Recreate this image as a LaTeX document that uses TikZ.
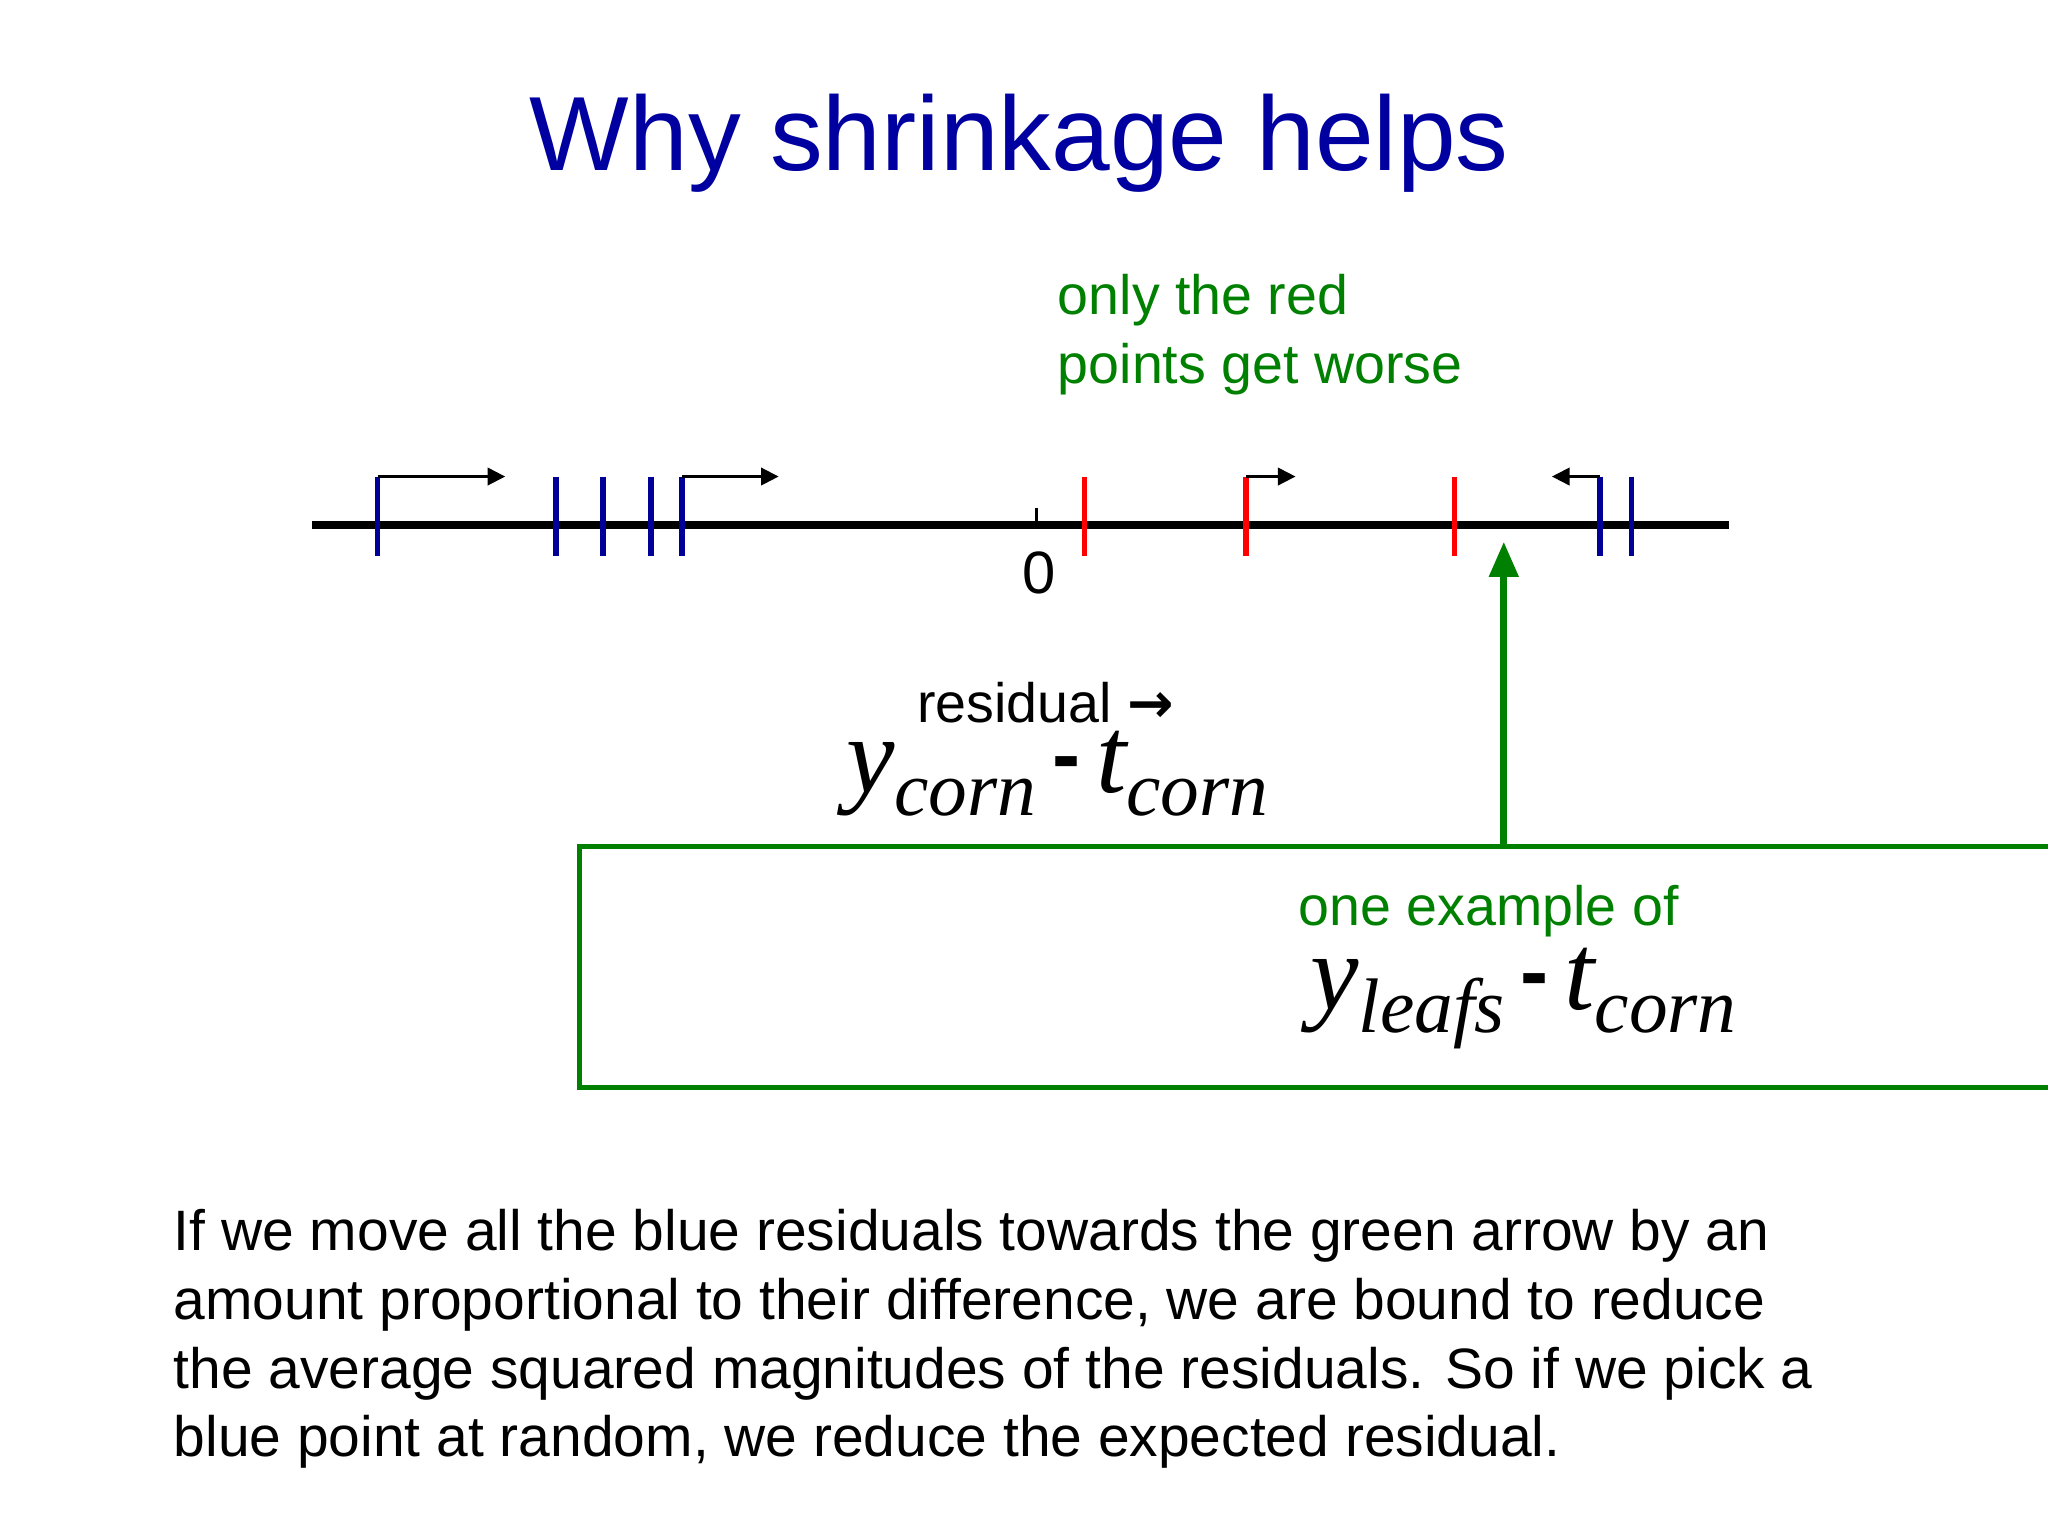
\documentclass[tikz,border=0pt]{standalone}
\usepackage{fontspec}
\setmainfont{Liberation Sans}
\newfontfamily\tserif{Liberation Serif}
\usetikzlibrary{arrows.meta}
\definecolor{tblue}{RGB}{0,0,160}
\definecolor{tgreen}{RGB}{0,128,0}
\definecolor{tickblue}{RGB}{0,0,150}
\newcommand{\bigvar}[2]{{\tserif\itshape\fontsize{31}{31}\selectfont #1}{\tserif\itshape\fontsize{22}{22}\selectfont\raisebox{-0.3em}{#2}}}
\newcommand{\mminus}{\hspace{0.45em}\raisebox{0.25em}{\fontsize{24}{24}\selectfont\bfseries -}\hspace{0.45em}}
\begin{document}
\begin{tikzpicture}[x=0.01302cm,y=-0.01302cm,
  bt/.style={tickblue,line width=1.6pt},
  rt/.style={red,line width=1.6pt},
  mv/.style={black,line width=0.6pt,-{Triangle[length=5pt,width=5pt]}},
  txt/.style={font=\fontsize{15.8}{19.8}\selectfont,inner sep=0pt}]
\useasboundingbox (0,0) rectangle (1573,1180);
\node[tblue,font=\fontsize{30}{36}\selectfont] (title) at (783,110) {Why shrinkage helps};
\draw[line width=2.2pt] (240,403) coordinate (a0) -- (1328,403) coordinate (a1);
\draw[line width=1pt] (796,390) coordinate (z0) -- (796,403) coordinate (z1);
\node[txt,font=\fontsize{17}{20}\selectfont] (zero) at (798,440) {0};
\foreach \x in {290,427,463,500,524,1229,1253}{\draw[bt] (\x,366) -- (\x,427);}
\foreach \x in {833,957,1117}{\draw[rt] (\x,366) -- (\x,427);}
\coordinate (p1) at (290,366); \coordinate (q1) at (388,366);
\coordinate (p2) at (524,366); \coordinate (q2) at (598,366);
\coordinate (p3) at (957,366); \coordinate (q3) at (995,366);
\coordinate (p4) at (1229,366); \coordinate (q4) at (1192,366);
\draw[mv] (p1) -- (q1);
\draw[mv] (p2) -- (q2);
\draw[mv] (p3) -- (q3);
\draw[mv] (p4) -- (q4);
\node[txt,tgreen,anchor=west,align=left] (only) at (812,257) {only the red\\points get worse};
\node[txt,anchor=center] (res) at (803,540) {residual {\fontspec{DejaVu Sans}\bfseries →}};
\node[inner sep=0pt] (m1) at (812,594) {\bigvar{y}{corn}\mminus\bigvar{t}{corn}};
\node[draw=tgreen,line width=1.3pt,minimum width=408\pgflinewidth,minimum height=2.409cm,text width=5.312cm,inner sep=0pt] (box) at (1161,742.5) {};
\node[txt,tgreen,anchor=west] (ex) at (997,700) {one example of};
\node[inner sep=0pt] (m2) at (1170,767) {\bigvar{y}{leafs}\mminus\bigvar{t}{corn}};
\coordinate (gt) at (1155,416);
\draw[tgreen,line width=2pt,-{Triangle[length=10pt,width=8pt]}] (box.north -| gt) -- (gt);
\node[txt,font=\fontsize{16.2}{19.6}\selectfont,anchor=north west,align=left] (para) at (133,928) {If we move all the blue residuals towards the green arrow by an\\amount proportional to their difference, we are bound to reduce\\the average squared magnitudes of the residuals. So if we pick a\\blue point at random, we reduce the expected residual.};
\end{tikzpicture}
\end{document}
